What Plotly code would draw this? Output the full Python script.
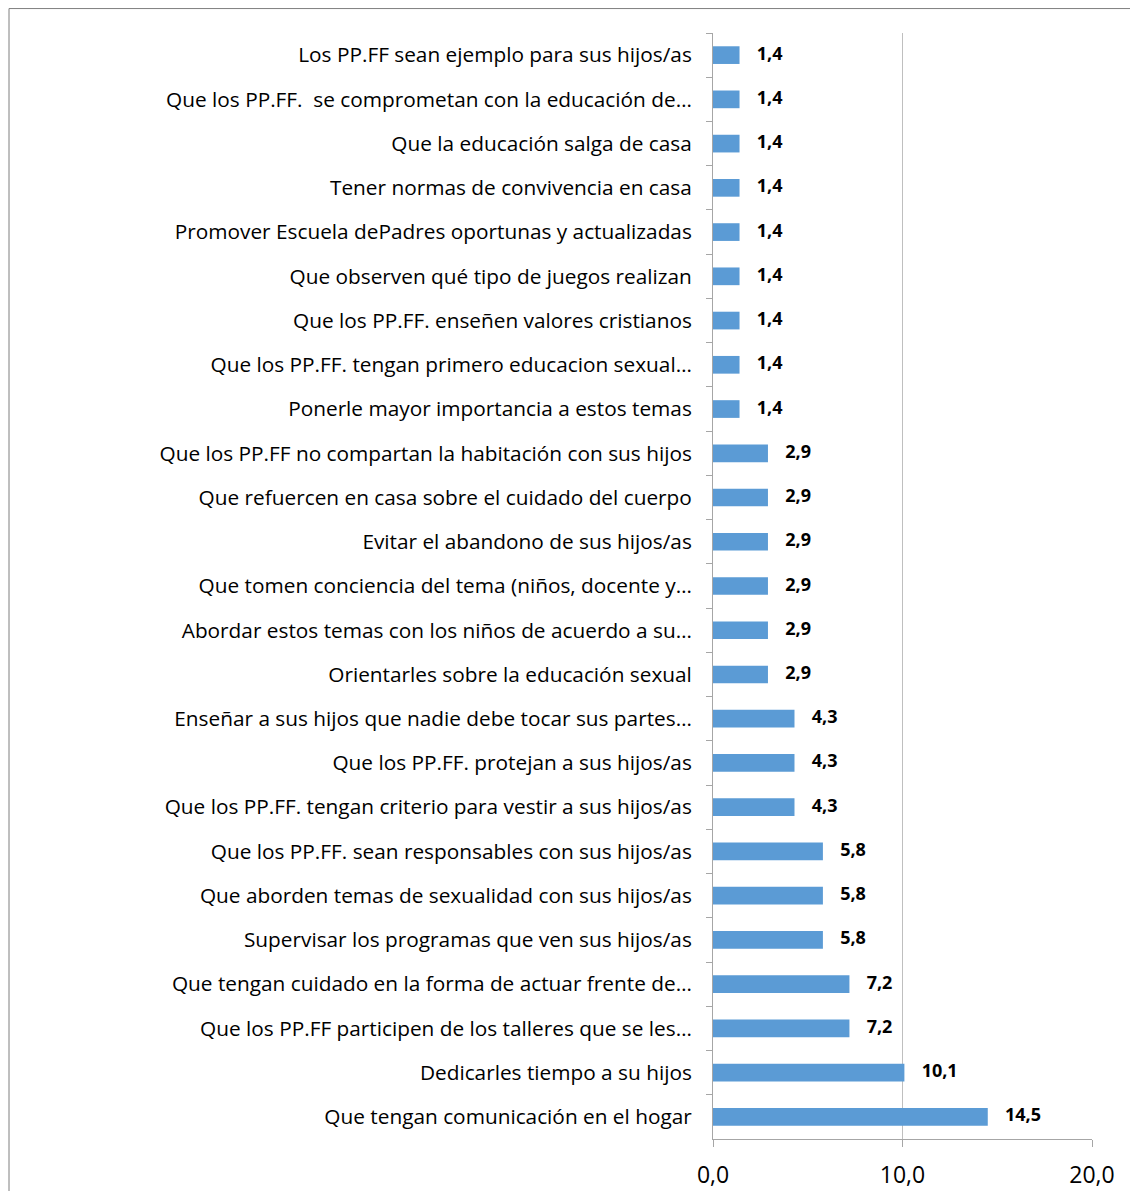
import plotly.graph_objects as go

# ====== data (top to bottom as in the chart) ======
categorias = [
    "Los PP.FF sean ejemplo para sus hijos/as",
    "Que los PP.FF.  se comprometan con la educación de…",
    "Que la educación salga de casa",
    "Tener normas de convivencia en casa",
    "Promover Escuela dePadres oportunas y actualizadas",
    "Que observen qué tipo de juegos realizan",
    "Que los PP.FF. enseñen valores cristianos",
    "Que los PP.FF. tengan primero educacion sexual…",
    "Ponerle mayor importancia a estos temas",
    "Que los PP.FF no compartan la habitación con sus hijos",
    "Que refuercen en casa sobre el cuidado del cuerpo",
    "Evitar el abandono de sus hijos/as",
    "Que tomen conciencia del tema (niños, docente y…",
    "Abordar estos temas con los niños de acuerdo a su…",
    "Orientarles sobre la educación sexual",
    "Enseñar a sus hijos que nadie debe tocar sus partes…",
    "Que los PP.FF. protejan a sus hijos/as",
    "Que los PP.FF. tengan criterio para vestir a sus hijos/as",
    "Que los PP.FF. sean responsables con sus hijos/as",
    "Que aborden temas de sexualidad con sus hijos/as",
    "Supervisar los programas que ven sus hijos/as",
    "Que tengan cuidado en la forma de actuar frente de…",
    "Que los PP.FF participen de los talleres que se les…",
    "Dedicarles tiempo a su hijos",
    "Que tengan comunicación en el hogar",
]
porcentajes = [1.4, 1.4, 1.4, 1.4, 1.4, 1.4, 1.4, 1.4, 1.4,
               2.9, 2.9, 2.9, 2.9, 2.9, 2.9,
               4.3, 4.3, 4.3,
               5.8, 5.8, 5.8,
               7.2, 7.2,
               10.1, 14.5]
x_ticks = [0, 10, 20]

BAR = "#5B9BD5"
GRID = "#BFBFBF"
AXIS = "#A6A6A6"
FONT = "'Open Sans', sans-serif"

n = len(categorias)

fig = go.Figure()

# barras
fig.add_trace(go.Bar(
    x=porcentajes,
    y=categorias,
    orientation="h",
    marker=dict(color=BAR, line=dict(width=0)),
    width=0.4,
    hoverinfo="x+y",
))

# etiquetas de valor
fig.add_trace(go.Scatter(
    x=porcentajes,
    y=categorias,
    mode="markers+text",
    marker=dict(size=26, opacity=0),
    text=[f"{v:.1f}".replace(".", ",") for v in porcentajes],
    textposition="middle right",
    textfont=dict(family=FONT, size=18, color="#000000", weight="bold"),
    hoverinfo="skip",
    cliponaxis=False,
))

fig.update_layout(
    width=1130,
    height=1183,
    margin=dict(l=705, r=46, t=25, b=52),
    paper_bgcolor="white",
    plot_bgcolor="white",
    showlegend=False,
    separators=",.",
    font=dict(family=FONT, size=20.8, color="#000000"),
    shapes=[dict(
        type="rect", xref="paper", yref="paper",
        x0=-1.8575, x1=1.3, y0=-0.1, y1=1.0221,
        line=dict(color="#7F7F7F", width=1), layer="below",
    )],
)

fig.update_xaxes(
    range=[0, 20],
    tickvals=x_ticks,
    tickformat=".1f",
    showgrid=True, gridcolor=GRID, gridwidth=1,
    showline=True, linecolor=AXIS, linewidth=1,
    ticks="outside", ticklen=7, tickcolor=AXIS,
    tickfont=dict(size=23),
    zeroline=False,
    ticklabelstandoff=8,
    automargin=False,
)
fig.update_yaxes(
    range=[n - 0.5, -0.5],
    showline=True, linecolor=AXIS, linewidth=1,
    ticks="outside", ticklen=6, tickcolor=AXIS,
    tickson="boundaries",
    showgrid=False,
    ticklabelstandoff=16,
    automargin=False,
)

fig.write_html("out.html")
